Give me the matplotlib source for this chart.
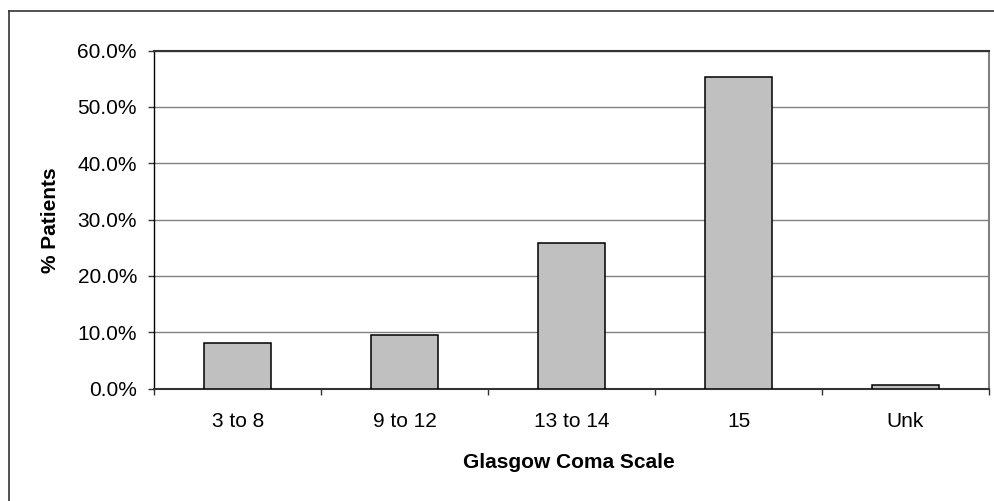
import matplotlib
matplotlib.use("Agg")
import matplotlib.pyplot as plt
from matplotlib.lines import Line2D
from matplotlib.ticker import FuncFormatter, FixedLocator

categories = ["3 to 8", "9 to 12", "13 to 14", "15", "Unk"]
values = [8.1, 9.5, 25.9, 55.3, 0.6]
yticks = [0, 10, 20, 30, 40, 50, 60]

W, H = 994, 501
fig = plt.figure(figsize=(W / 100, H / 100), dpi=100)
plt.rcParams['font.family'] = ['Liberation Sans', 'DejaVu Sans']

left, right, bottom, top = 154.3, 989.0, 388.5, 50.5
ax = fig.add_axes([left / W, 1 - bottom / H, (right - left) / W, (bottom - top) / H])

x = list(range(len(categories)))
ax.bar(x, values, width=0.4, color="#C0C0C0", edgecolor="black", linewidth=1.1, zorder=3)

ax.set_xlim(-0.5, len(categories) - 0.5)
ax.set_ylim(0, 60)
ax.set_yticks(yticks)
ax.yaxis.set_major_formatter(FuncFormatter(lambda v, p: f"{v:.1f}%"))
ax.grid(axis="y", color="#808080", linewidth=1.0, zorder=0)
ax.set_axisbelow(True)

ax.set_xticks(x)
ax.set_xticklabels(categories)
ax.xaxis.set_minor_locator(FixedLocator([i - 0.5 for i in range(len(categories) + 1)]))
ax.tick_params(axis="x", which="major", length=0, pad=17, labelsize=15, colors="black")
ax.tick_params(axis="x", which="minor", length=4, width=1, color="#333333", direction="out")
ax.tick_params(axis="y", which="major", length=4, width=1, color="#333333", pad=8.5, labelsize=15)

ax.spines["left"].set_color("black")
ax.spines["left"].set_linewidth(1.0)
ax.spines["bottom"].set_color("#333333")
ax.spines["bottom"].set_linewidth(1.5)
ax.spines["top"].set_color("#333333")
ax.spines["top"].set_linewidth(1.5)
ax.spines["right"].set_color("#808080")
ax.spines["right"].set_linewidth(1.5)

fig.text(50 / W, 1 - 220 / H, "% Patients", rotation=90, ha="center", va="center",
         fontsize=15, fontweight="bold")
fig.text(569 / W, 1 - 463 / H, "Glasgow Coma Scale", ha="center", va="center",
         fontsize=15, fontweight="bold")

# outer chart border (extends beyond the image at right and bottom)
fig.add_artist(Line2D([8.5 / W, 8.5 / W], [1 - 11 / H, 0], transform=fig.transFigure,
                      color="#333333", linewidth=1.2))
fig.add_artist(Line2D([8.5 / W, 1], [1 - 11 / H, 1 - 11 / H], transform=fig.transFigure,
                      color="#333333", linewidth=1.2))

fig.savefig("out.png", dpi=100)
